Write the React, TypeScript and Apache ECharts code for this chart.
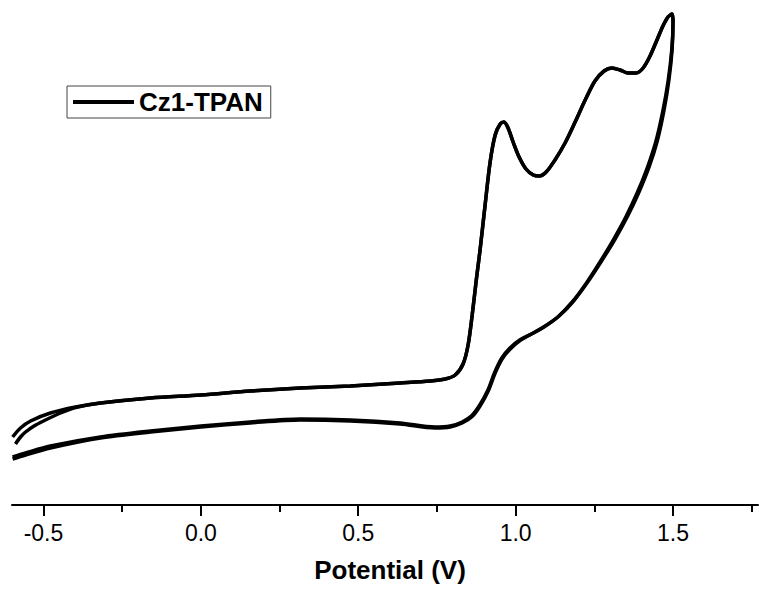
import React, { useEffect, useRef } from "react";
import * as echarts from "echarts";

// Potential (V) / current (arbitrary units) pairs
const cycle1: [number, number][] = [
  [-0.589, 12.2], [-0.573, 13.6], [-0.557, 14.6], [-0.53, 15.8], [-0.5, 16.8],
  [-0.446, 18.4], [-0.398, 19.5], [-0.319, 20.4], [-0.16, 21.4], [0.0, 22.0],
  [0.157, 22.8], [0.316, 23.4], [0.475, 23.8], [0.633, 24.4], [0.729, 24.8],
  [0.776, 25.2], [0.808, 26.0], [0.833, 28.2], [0.849, 32.0], [0.862, 38.0],
  [0.875, 45.0], [0.887, 51.0], [0.903, 60.0], [0.919, 68.6], [0.935, 74.0],
  [0.951, 76.2], [0.963, 76.6], [0.976, 75.4], [0.992, 72.6], [1.011, 69.6],
  [1.033, 67.2], [1.056, 66.0], [1.075, 65.8], [1.097, 66.6], [1.125, 69.0],
  [1.157, 72.4], [1.189, 76.6], [1.221, 81.0], [1.252, 84.8], [1.281, 86.8],
  [1.306, 87.4], [1.332, 87.0], [1.357, 86.4], [1.383, 86.4], [1.405, 87.4],
  [1.427, 89.8], [1.449, 93.0], [1.468, 95.8], [1.484, 97.6], [1.497, 98.2],
  [1.5, 96.6], [1.496, 91.0], [1.484, 84.6], [1.467, 78.6], [1.445, 72.6],
  [1.418, 67.4], [1.386, 62.4], [1.35, 57.6], [1.31, 53.0], [1.268, 48.6],
  [1.225, 44.4], [1.18, 40.6], [1.134, 37.6], [1.09, 35.6], [1.05, 34.2],
  [1.013, 33.0], [0.982, 31.4], [0.956, 29.4], [0.934, 26.6], [0.912, 23.0],
  [0.886, 20.0], [0.861, 17.9], [0.83, 16.6], [0.792, 15.8], [0.744, 15.6],
  [0.633, 16.4], [0.475, 17.0], [0.316, 17.2], [0.157, 16.6], [0.0, 15.8],
  [-0.16, 14.8], [-0.319, 13.6], [-0.478, 11.8], [-0.557, 10.4], [-0.598, 9.6],
];

const cycle2: [number, number][] = [
  [-0.598, 13.6], [-0.573, 15.4], [-0.541, 16.8], [-0.478, 18.4], [-0.398, 19.6],
  [-0.319, 20.4], [-0.16, 21.4], [0.0, 22.0], [0.157, 22.8], [0.316, 23.4],
  [0.475, 23.8], [0.633, 24.4], [0.729, 24.8], [0.776, 25.2], [0.808, 26.0],
  [0.833, 28.2], [0.849, 32.0], [0.862, 38.0], [0.875, 45.0], [0.887, 51.0],
  [0.903, 60.0], [0.919, 68.6], [0.935, 74.0], [0.951, 76.2], [0.963, 76.6],
  [0.976, 75.4], [0.992, 72.6], [1.011, 69.6], [1.033, 67.2], [1.056, 66.0],
  [1.075, 65.8], [1.097, 66.6], [1.125, 69.0], [1.157, 72.4], [1.189, 76.6],
  [1.221, 81.0], [1.252, 84.8], [1.281, 86.8], [1.306, 87.4], [1.332, 87.0],
  [1.357, 86.4], [1.383, 86.4], [1.405, 87.4], [1.427, 89.8], [1.449, 93.0],
  [1.468, 95.8], [1.484, 97.6], [1.497, 98.2], [1.5, 96.6], [1.497, 91.0],
  [1.487, 85.0], [1.471, 78.8], [1.45, 72.8], [1.424, 67.6], [1.392, 62.6],
  [1.356, 57.8], [1.316, 53.2], [1.273, 48.8], [1.229, 44.6], [1.184, 40.8],
  [1.138, 37.8], [1.094, 35.8], [1.053, 34.3], [1.014, 32.9], [0.983, 31.2],
  [0.957, 29.2], [0.935, 26.4], [0.913, 22.8], [0.887, 19.8], [0.862, 17.7],
  [0.83, 16.4], [0.792, 15.6], [0.744, 15.4], [0.633, 16.2], [0.475, 16.8],
  [0.316, 17.0], [0.157, 16.4], [0.0, 15.6], [-0.16, 14.6], [-0.319, 13.4],
  [-0.478, 11.4], [-0.557, 10.0], [-0.598, 9.2],
];

const majorTicks = [-0.5, 0.0, 0.5, 1.0, 1.5];
const minorTicks = [-0.25, 0.25, 0.75, 1.25, 1.75];
const seriesName = "Cz1-TPAN";
const xTitle = "Potential (V)";
const xMin = -0.6;
const xMax = 1.77;

export default function App() {
  const ref = useRef<HTMLDivElement>(null);
  useEffect(() => {
    if (!ref.current) return;
    const chart = echarts.init(ref.current, undefined, { renderer: "svg" });
    const lineSeries = (data: [number, number][]) => ({
      type: "line",
      name: seriesName,
      data,
      xAxisIndex: 0,
      yAxisIndex: 0,
      showSymbol: false,
      symbol: "none",
      smooth: 0.3,
      lineStyle: { color: "#000", width: 3.5 },
      itemStyle: { color: "#000" },
    });
    chart.setOption({
      animation: false,
      backgroundColor: "#fff",
      grid: { left: 12, right: 1, top: 5, bottom: 84, containLabel: false },
      legend: {
        data: [seriesName],
        left: 67,
        top: 86,
        orient: "vertical",
        padding: [3, 8, 3, 6],
        borderColor: "#444",
        borderWidth: 1,
        icon: "rect",
        itemWidth: 61,
        itemHeight: 4,
        textStyle: {
          fontSize: 26,
          fontWeight: "bold",
          fontFamily: "Liberation Sans, Arial, sans-serif",
          color: "#000",
        },
      },
      xAxis: [
        {
          type: "value",
          min: xMin,
          max: xMax,
          position: "bottom",
          name: xTitle,
          nameLocation: "middle",
          nameGap: 52,
          nameTextStyle: {
            fontSize: 26,
            fontWeight: "bold",
            fontFamily: "Liberation Sans, Arial, sans-serif",
            color: "#000",
            padding: [0, 0, 0, 10],
          },
          axisLine: { show: true, onZero: false, lineStyle: { color: "#000", width: 2 } },
          axisTick: {
            show: true,
            customValues: majorTicks,
            length: 11,
            lineStyle: { color: "#000", width: 2 },
          },
          axisLabel: {
            customValues: majorTicks,
            formatter: (v: number) => v.toFixed(1),
            fontSize: 23,
            fontFamily: "Liberation Sans, Arial, sans-serif",
            color: "#000",
            margin: 16,
          },
          splitLine: { show: false },
        },
        {
          type: "value",
          min: xMin,
          max: xMax,
          position: "bottom",
          axisLine: { show: false, onZero: false },
          axisTick: {
            show: true,
            customValues: minorTicks,
            length: 7,
            lineStyle: { color: "#000", width: 2 },
          },
          axisLabel: { show: false },
          splitLine: { show: false },
        },
      ],
      yAxis: { type: "value", min: 0, max: 100, show: false },
      series: [lineSeries(cycle1), lineSeries(cycle2)],
    });
    return () => chart.dispose();
  }, []);
  return (
    <div
      ref={ref}
      style={{ position: "fixed", left: 0, top: 0, width: 759, height: 589, background: "#fff" }}
    />
  );
}
